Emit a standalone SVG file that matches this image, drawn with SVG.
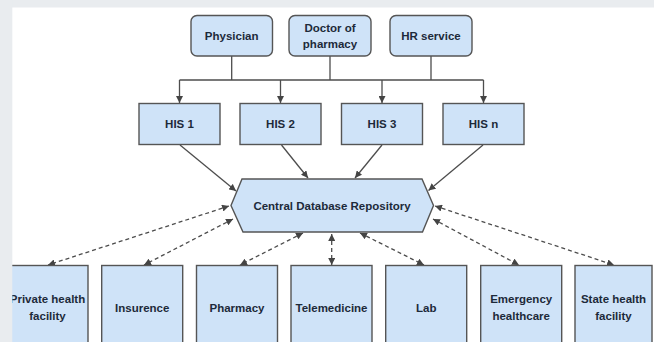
<svg xmlns="http://www.w3.org/2000/svg" width="654" height="342" viewBox="0 0 654 342">
  <defs>
    <marker id="arr" viewBox="0 0 10 10" refX="10" refY="5" markerWidth="7" markerHeight="7" markerUnits="userSpaceOnUse" orient="auto-start-reverse">
      <path d="M0,0 L10,5 L0,10 z" fill="#444"/>
    </marker>
    <style>
      .box { fill: #cfe3f8; stroke: #555; stroke-width: 1.4; }
      .lbl { font-family: "Liberation Sans", Arial, sans-serif; font-weight: bold; font-size: 11.5px; fill: #1d2a3a; text-anchor: middle; dominant-baseline: central; }
      .wire { fill: none; stroke: #4d4d4d; stroke-width: 1.3; }
      .solid { fill: none; stroke: #4d4d4d; stroke-width: 1.3; marker-end: url(#arr); }
      .dash { fill: none; stroke: #4d4d4d; stroke-width: 1.3; stroke-dasharray: 4 3; marker-start: url(#arr); marker-end: url(#arr); }
      .band { fill: #e9ecef; }
    </style>
  </defs>

  <rect width="654" height="342" fill="#ffffff"/>

  <!-- connectors -->
  <g id="connectors">
    <!-- users to shared bus -->
    <path class="wire" d="M231.7,56 V80 M330,56 V80 M431,56 V80 M179.5,80 H483.5"/>
    <path class="solid" d="M179.5,80 V103"/>
    <path class="solid" d="M280.5,80 V103"/>
    <path class="solid" d="M382,80 V103"/>
    <path class="solid" d="M483.5,80 V103"/>
    <!-- HIS to central repository -->
    <path class="solid" d="M180,145 L236,191"/>
    <path class="solid" d="M281.5,145 L308,178"/>
    <path class="solid" d="M382,145 L355,178"/>
    <path class="solid" d="M483,145 L428.5,190.5"/>
    <!-- repository to consumers -->
    <path class="dash" d="M229,206 L48,265"/>
    <path class="dash" d="M233,219 L144,265"/>
    <path class="dash" d="M303,233 L240,265"/>
    <path class="dash" d="M331.7,234 V265"/>
    <path class="dash" d="M360,233 L424,265"/>
    <path class="dash" d="M433,219 L519,265"/>
    <path class="dash" d="M435,206 L614,265"/>
  </g>

  <!-- top row -->
  <g id="physician">
    <rect class="box" x="191" y="15.5" width="81.5" height="40.5" rx="6"/>
    <text class="lbl" x="231.7" y="36">Physician</text>
  </g>
  <g id="doctor-of-pharmacy">
    <rect class="box" x="289" y="15.5" width="82" height="40.5" rx="6"/>
    <text class="lbl" x="330" y="28">Doctor of</text>
    <text class="lbl" x="330" y="44">pharmacy</text>
  </g>
  <g id="hr-service">
    <rect class="box" x="390" y="15.5" width="82" height="40.5" rx="6"/>
    <text class="lbl" x="431" y="36">HR service</text>
  </g>

  <!-- HIS row -->
  <g id="his-1">
    <rect class="box" x="139" y="103.5" width="81" height="41"/>
    <text class="lbl" x="179.5" y="124">HIS 1</text>
  </g>
  <g id="his-2">
    <rect class="box" x="240" y="103.5" width="81" height="41"/>
    <text class="lbl" x="280.5" y="124">HIS 2</text>
  </g>
  <g id="his-3">
    <rect class="box" x="341.5" y="103.5" width="81" height="41"/>
    <text class="lbl" x="382" y="124">HIS 3</text>
  </g>
  <g id="his-n">
    <rect class="box" x="443" y="103.5" width="81" height="41"/>
    <text class="lbl" x="483.5" y="124">HIS n</text>
  </g>

  <!-- central repository -->
  <g id="central-repository">
    <polygon class="box" points="242,179 422,179 433.5,205.5 422.5,232 243,232 231,205.5"/>
    <text class="lbl" x="332" y="205.5">Central Database Repository</text>
  </g>

  <!-- consumers -->
  <g id="private-health-facility">
    <rect class="box" x="7" y="265.5" width="81" height="90"/>
    <text class="lbl" x="47.5" y="299">Private health</text>
    <text class="lbl" x="47.5" y="316">facility</text>
  </g>
  <g id="insurence">
    <rect class="box" x="101.7" y="265.5" width="81" height="90"/>
    <text class="lbl" x="142.2" y="308">Insurence</text>
  </g>
  <g id="pharmacy">
    <rect class="box" x="196.5" y="265.5" width="81" height="90"/>
    <text class="lbl" x="237" y="308">Pharmacy</text>
  </g>
  <g id="telemedicine">
    <rect class="box" x="291" y="265.5" width="81" height="90"/>
    <text class="lbl" x="331.5" y="308">Telemedicine</text>
  </g>
  <g id="lab">
    <rect class="box" x="385.7" y="265.5" width="81" height="90"/>
    <text class="lbl" x="426.2" y="308">Lab</text>
  </g>
  <g id="emergency-healthcare">
    <rect class="box" x="480.7" y="265.5" width="81" height="90"/>
    <text class="lbl" x="521.2" y="299">Emergency</text>
    <text class="lbl" x="521.2" y="316">healthcare</text>
  </g>
  <g id="state-health-facility">
    <rect class="box" x="575" y="265.5" width="77" height="90"/>
    <text class="lbl" x="613.5" y="299">State health</text>
    <text class="lbl" x="613.5" y="316">facility</text>
  </g>

  <!-- page margins -->
  <rect class="band" x="0" y="0" width="654" height="7.5"/>
  <rect class="band" x="0" y="0" width="12.3" height="342"/>
</svg>
